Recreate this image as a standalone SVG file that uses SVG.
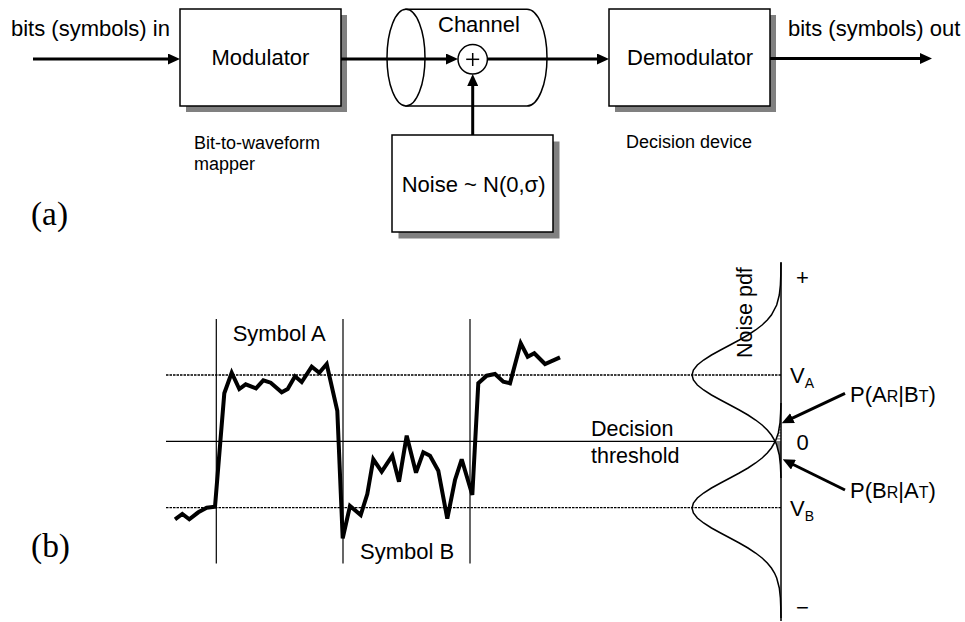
<svg xmlns="http://www.w3.org/2000/svg" width="965" height="622" viewBox="0 0 965 622">
<style>
  text { font-family: "Liberation Sans", Arial, sans-serif; fill: #000; }
  .lbl { font-size: 22px; }
  .sm { font-size: 18px; }
  .tag { font-family: "Liberation Serif", "Times New Roman", serif; font-size: 33px; }
  .box { fill: #fff; stroke: #000; stroke-width: 1.5; }
  .shadow { fill: #808080; stroke: none; }
  .conn { fill: none; stroke: #000; stroke-width: 3; }
  .thin { fill: none; stroke: #000; stroke-width: 1.2; }
  .dot { fill: none; stroke: #000; stroke-width: 1.3; stroke-dasharray: 2.5 1; }
  .curve { fill: none; stroke: #000; stroke-width: 1.5; }
  .wave { fill: none; stroke: #000; stroke-width: 4; stroke-linejoin: miter; stroke-miterlimit: 3; }
</style>
<defs>
  <marker id="ah" markerUnits="userSpaceOnUse" markerWidth="12" markerHeight="11" refX="6" refY="5.5" orient="auto">
    <path d="M0,0 L12,5.5 L0,11 Z" fill="#000"/>
  </marker>
  <pattern id="hatch" patternUnits="userSpaceOnUse" width="4" height="3">
    <rect width="4" height="3" fill="#fff"/>
    <rect y="0" width="4" height="1.6" fill="#9a9a9a"/>
  </pattern>
</defs>

<!-- Part (a) -->
<text class="tag" x="31" y="225" textLength="37" lengthAdjust="spacingAndGlyphs">(a)</text>

<g id="modulator">
  <rect class="shadow" x="186" y="15" width="161" height="97"/>
  <rect class="box" x="180" y="9" width="161" height="97"/>
  <text class="lbl" x="211.5" y="65.3">Modulator</text>
</g>
<g id="modulator-caption">
  <text class="sm" x="194" y="149">Bit-to-waveform</text>
  <text class="sm" x="194" y="169.5">mapper</text>
</g>

<g id="channel">
  <path class="box" d="M406,9.3 L527,9.3 A20,48.35 0 0 1 527,106 L406,106 Z"/>
  <ellipse class="box" cx="406" cy="57.65" rx="19" ry="48.35"/>
  <text class="lbl" x="438" y="31.7">Channel</text>
</g>

<g id="noise">
  <rect class="shadow" x="398.5" y="141.5" width="161" height="97"/>
  <rect class="box" x="392" y="135" width="161" height="97"/>
  <text class="lbl" x="401.7" y="192.3">Noise ~ N(0,σ)</text>
</g>

<g id="demodulator">
  <rect class="shadow" x="615" y="15" width="161" height="97"/>
  <rect class="box" x="609" y="9" width="161" height="97"/>
  <text class="lbl" x="627" y="65">Demodulator</text>
</g>
<g id="demodulator-caption">
  <text class="sm" x="626" y="147.7">Decision device</text>
</g>

<g id="io-labels">
  <text class="lbl" x="11" y="36">bits (symbols) in</text>
  <text class="lbl" x="788" y="36">bits (symbols) out</text>
</g>

<g id="connectors">
  <line class="conn" x1="33" y1="59" x2="174" y2="59" marker-end="url(#ah)"/>
  <line class="conn" x1="341" y1="59" x2="452" y2="59" marker-end="url(#ah)"/>
  <line class="conn" x1="472.7" y1="135" x2="472.7" y2="80" marker-end="url(#ah)"/>
  <line class="conn" x1="487.4" y1="59" x2="603" y2="59" marker-end="url(#ah)"/>
  <line class="conn" x1="770" y1="58.5" x2="926" y2="58.5" marker-end="url(#ah)"/>
  <line class="conn" x1="845" y1="393.3" x2="787.1" y2="420.7" marker-end="url(#ah)"/>
  <line class="conn" x1="845" y1="490" x2="788.1" y2="462" marker-end="url(#ah)"/>
</g>

<g id="adder">
  <circle cx="472.7" cy="59.3" r="14.7" fill="#fff" stroke="#000" stroke-width="1.5"/>
  <line x1="466.2" y1="59.3" x2="479.2" y2="59.3" stroke="#000" stroke-width="1.5"/>
  <line x1="472.7" y1="53" x2="472.7" y2="66" stroke="#000" stroke-width="1.5"/>
</g>

<!-- Part (b) -->
<text class="tag" x="31" y="556.7" textLength="39" lengthAdjust="spacingAndGlyphs">(b)</text>

<g id="waveform-plot">
  <line class="thin" x1="216.3" y1="319" x2="216.3" y2="563.5"/>
  <line class="thin" x1="343" y1="319" x2="343" y2="563.5"/>
  <line class="thin" x1="470" y1="319" x2="470" y2="563.5"/>
  <line class="dot" x1="166" y1="375" x2="781" y2="375"/>
  <line class="thin" x1="166" y1="441.3" x2="781" y2="441.3"/>
  <line class="dot" x1="166" y1="507.7" x2="781" y2="507.7"/>
  <polyline class="wave" points="175,519.3 182.3,514 189.3,519.3 198.3,512.3 206.7,507.7 215,506.7 224.3,393.3 231.7,372.7 239.3,389 245.7,384.3 256,388.3 263.3,380.3 270.7,382.7 281.7,392.3 287.7,389 295,376.3 301.7,382 311.7,366.7 319.3,372.7 326.7,364 337.3,410.7 342.7,538.3 350,506 360.7,515 367.3,494 373.3,459.3 381.7,471.7 392.3,455.7 399,481.7 406.7,435.7 416,472.7 423.3,452.3 430,455.7 438.3,470.7 447.3,518.7 455,480 461.7,459.3 472.3,495 478.3,383.3 486.7,375.7 495,374 503.3,381.7 510,383.3 520.7,343.3 527.7,356.7 534.3,353.3 545,364 560,357.3"/>
  <text class="lbl" x="232.7" y="341">Symbol A</text>
  <text class="lbl" x="360" y="559.3">Symbol B</text>
  <text class="lbl" x="591" y="436" style="font-size:21.5px">Decision</text>
  <text class="lbl" x="591" y="462.7" style="font-size:21.5px">threshold</text>
</g>

<g id="noise-pdf">
  <path d="M775.5,441 L778.3,433 L780,423 L780.6,413 L781,403 L781,441 Z" fill="url(#hatch)"/>
  <path d="M775,441 L776.7,445 L779.3,455 L780.4,465 L781,478 L781,441 Z" fill="#808080"/>
  <polyline class="curve" points="781,263 780.95,265 780.8,275 780.4,285 779.3,295 776.7,305 771.4,315 767.3,320 762.1,325 755.6,330 748,335 739.3,340 730,345 720.6,350 711.5,355 703.6,360 697.35,365 693.4,370 692,375 693.4,380 697.35,385 703.6,390 711.5,395 720.6,400 730,405 739.3,410 748,415 755.6,420 762.1,425 767.3,430 771.4,435 775,441 776.7,445 779.3,455 780.4,465 781,478"/>
  <polyline class="curve" points="781,403 780.6,413 780,423 778.3,433 775.5,441 771.4,448 767.3,453 762.1,458 755.6,463 748,468 739.3,473 730,478 720.6,483 711.5,488 703.6,493 697.35,498 693.4,503 692,508 693.4,513 697.35,518 703.6,523 711.5,528 720.6,533 730,538 739.3,543 748,548 755.6,553 762.1,558 767.3,563 771.4,568 774.5,573 776.7,578 779.3,588 780.4,598 780.8,608 781,618"/>
  <line x1="781" y1="262" x2="781" y2="621" stroke="#000" stroke-width="1.5"/>
  <text class="lbl" transform="translate(752,358) rotate(-90)" style="font-size:21.5px">Noise pdf</text>
  <text class="lbl" x="796" y="285">+</text>
  <text class="lbl" x="796" y="615">−</text>
  <text class="lbl" x="790" y="383">V<tspan style="font-size:14px" dy="5">A</tspan></text>
  <text class="lbl" x="796.5" y="450">0</text>
  <text class="lbl" x="790" y="516">V<tspan style="font-size:14px" dy="5">B</tspan></text>
  <text class="lbl" x="850" y="401.7">P(A<tspan style="font-size:16px">R</tspan>|B<tspan style="font-size:16px">T</tspan>)</text>
  <text class="lbl" x="850" y="498.3">P(B<tspan style="font-size:16px">R</tspan>|A<tspan style="font-size:16px">T</tspan>)</text>
</g>
</svg>
